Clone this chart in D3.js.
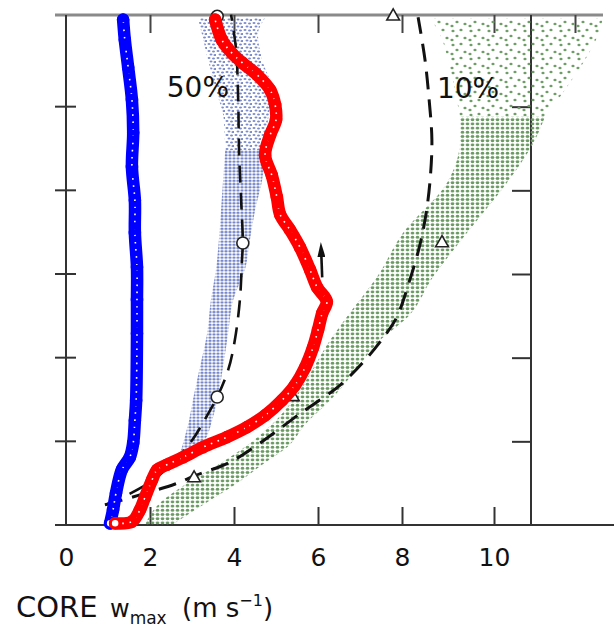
<!DOCTYPE html>
<html>
<head>
<meta charset="utf-8">
<script src="https://cdn.jsdelivr.net/npm/d3@7"></script>
<style>
  body { margin: 0; background: #fff; }
  svg { display: block; font-family: "DejaVu Sans", sans-serif; }
</style>
</head>
<body>
<svg id="chart" width="614" height="633"></svg>
<script>
"use strict";

// Tick values
const xTickLabels = [0, 2, 4, 6, 8, 10];
const xTopTicks = [2, 4, 6, 8, 10, 12];
const yTicks = [1, 2, 3, 4, 5];

// Curves, as [w (m/s), height]
const bluePath = [[1.05,0.02],[1.12,0.18],[1.19,0.38],[1.33,0.66],[1.52,0.81],[1.60,0.98],
  [1.64,1.25],[1.67,1.49],[1.69,2.29],[1.69,2.69],[1.69,3.08],[1.64,3.49],[1.64,3.88],
  [1.57,4.28],[1.60,4.69],[1.57,5.08],[1.48,5.47],[1.40,5.80],[1.36,6.04]];

const redPath = [[1.17,0.02],[1.57,0.04],[1.76,0.18],[1.88,0.33],[2.05,0.54],[2.17,0.66],
  [2.40,0.72],[2.79,0.81],[3.26,0.93],[3.83,1.05],[4.31,1.17],[4.74,1.31],[5.14,1.49],
  [5.45,1.67],[5.69,1.88],[5.88,2.12],[6.00,2.33],[6.10,2.53],[6.21,2.67],[5.98,2.84],
  [5.81,3.05],[5.57,3.32],[5.33,3.53],[5.10,3.71],[5.02,3.92],[4.90,4.18],[4.74,4.42],
  [4.86,4.66],[5.00,4.84],[4.98,5.02],[4.86,5.20],[4.55,5.38],[4.21,5.52],[3.95,5.64],
  [3.71,5.80],[3.55,6.04]];

const fiftyPath = [[0.93,0.24],[2.00,0.51],[2.88,0.93],[3.43,1.37],[3.60,1.53],[3.86,1.85],
  [4.02,2.21],[4.14,2.69],[4.19,3.17],[4.21,3.37],[4.17,3.88],[4.12,4.48],[4.10,5.08],
  [4.05,5.68],[3.93,6.10]];

const tenPath = [[0.93,0.24],[1.76,0.36],[2.60,0.49],[3.07,0.59],[3.90,0.75],[4.62,0.98],
  [5.57,1.33],[6.52,1.67],[7.12,1.97],[7.60,2.27],[7.88,2.49],[8.17,2.93],[8.39,3.35],
  [8.52,3.71],[8.61,4.12],[8.65,4.60],[8.59,5.08],[8.50,5.56],[8.35,6.07]];

const fiftyMarks = [[3.60,1.53],[4.21,3.37],[3.60,6.08]];
const tenMarks = [[3.05,0.56],[5.40,1.53],[8.87,3.37],[7.79,6.08]];
const arrowPath = [[6.10,2.96],[6.08,3.22]];

// Scatter envelopes, as [height, left w, right w]
const lightDense = [[0.84,2.71,3.00],[1.02,2.81,3.31],[1.25,2.93,3.48],[1.49,3.02,3.60],
  [1.89,3.19,3.74],[2.29,3.36,3.86],[2.69,3.45,3.98],[3.05,3.57,4.26],[3.41,3.64,4.38],
  [3.76,3.69,4.50],[4.12,3.74,4.67],[4.48,3.79,4.74]];
const lightSparse = [[4.48,3.79,4.74],[4.84,3.76,4.81],[5.20,3.57,4.90],[5.56,3.38,4.67],
  [5.86,3.24,4.57],[6.06,3.14,4.74]];
const greenDense = [[0.00,1.88,2.52],[0.24,2.19,3.26],[0.48,2.83,4.02],[0.72,3.62,4.67],
  [0.96,4.33,5.33],[1.20,4.90,5.69],[1.49,5.40,6.29],[1.85,5.86,6.90],[2.21,6.29,7.48],
  [2.49,6.69,8.13],[2.96,7.40,8.67],[3.49,8.02,9.41],[4.09,8.98,10.32],[4.60,9.26,11.01],
  [4.88,9.26,11.26]];
const greenSparse = [[4.88,9.26,11.26],[5.20,9.15,11.75],[5.56,9.00,12.25],[5.86,8.83,12.57],
  [6.06,8.61,12.69]];

const svg = d3.select("#chart");

// The original frame is slightly uneven, so the x scale is piecewise.
const x = d3.scaleLinear().domain([0, 8, 10, 12]).range([66, 402, 494, 575]);
const y = d3.scaleLinear().domain([0, 6]).range([525, 23]);

// Dot patterns for the scatter bands
const defs = svg.append("defs");
function dotPattern(id, w, h, dots, color, rx, ry) {
  const p = defs.append("pattern").attr("id", id)
    .attr("patternUnits", "userSpaceOnUse").attr("width", w).attr("height", h);
  dots.forEach(d => p.append("ellipse").attr("cx", d[0]).attr("cy", d[1])
    .attr("rx", rx).attr("ry", ry).attr("fill", color));
}
dotPattern("lightDense", 4, 3.2, [[2, 1.6]], "#7787c8", 1.7, 1.25);
dotPattern("lightSparse", 9, 7, [[2, 2], [6.5, 2.5], [4, 5.5], [8, 6]], "#7b8bcb", 1.5, 1.1);
dotPattern("greenDense", 5, 4.2, [[2.5, 2.1]], "#6a9962", 1.9, 1.5);
dotPattern("greenSparse", 18, 14, [[3, 3], [11, 2], [7, 8], [15, 10], [2, 12]], "#6f9d67", 1.6, 1.3);

// Arrow head: long and narrow, as in the original
defs.append("marker").attr("id", "head")
  .attr("viewBox", "0 0 10 10").attr("preserveAspectRatio", "none")
  .attr("refX", 1).attr("refY", 5)
  .attr("markerUnits", "userSpaceOnUse")
  .attr("markerWidth", 15).attr("markerHeight", 8).attr("orient", "auto")
  .append("path").attr("d", "M0,0 L10,5 L0,10 Z").attr("fill", "#111");

// Axes frame
const axisColor = "#333";
svg.append("line").attr("x1", 55).attr("x2", 614).attr("y1", y(0)).attr("y2", y(0))
  .attr("stroke", axisColor).attr("stroke-width", 2);
svg.append("line").attr("x1", 55).attr("x2", 603).attr("y1", 15).attr("y2", 15)
  .attr("stroke", "#8a8a8a").attr("stroke-width", 3);
svg.append("line").attr("x1", x(0)).attr("x2", x(0)).attr("y1", 15).attr("y2", y(0))
  .attr("stroke", axisColor).attr("stroke-width", 2);
svg.append("line").attr("x1", 531).attr("x2", 531).attr("y1", 15).attr("y2", y(0))
  .attr("stroke", axisColor).attr("stroke-width", 2);

// Bottom ticks and labels
const bottomAxis = svg.append("g").attr("transform", `translate(0,${y(0)})`)
  .call(d3.axisBottom(x).tickValues(xTickLabels).tickSize(-18).tickPadding(23));
bottomAxis.select(".domain").remove();
bottomAxis.selectAll(".tick line").attr("stroke", axisColor).attr("stroke-width", 2)
  .filter(d => d === 0).remove();
bottomAxis.selectAll(".tick text").attr("font-size", 25).attr("fill", "#111")
  .attr("font-family", "DejaVu Sans, sans-serif");

// Top ticks
const topAxis = svg.append("g").attr("transform", "translate(0,15)")
  .call(d3.axisTop(x).tickValues(xTopTicks).tickSize(-18).tickFormat(""));
topAxis.select(".domain").remove();
topAxis.selectAll(".tick line").attr("stroke", "#444").attr("stroke-width", 2);

// Left ticks cross the axis
svg.append("g").selectAll("line").data(yTicks).join("line")
  .attr("x1", 55).attr("x2", 76).attr("y1", d => y(d)).attr("y2", d => y(d))
  .attr("stroke", axisColor).attr("stroke-width", 2);

// Right ticks point inward
const rightAxis = svg.append("g").attr("transform", "translate(531,0)")
  .call(d3.axisRight(y).tickValues(yTicks).tickSize(-19).tickFormat(""));
rightAxis.select(".domain").remove();
rightAxis.selectAll(".tick line").attr("stroke", axisColor).attr("stroke-width", 2);

// Scatter bands
const band = d3.area().y(d => y(d[0])).x0(d => x(d[1])).x1(d => x(d[2]))
  .curve(d3.curveMonotoneY);
[["lightDense", lightDense], ["lightSparse", lightSparse],
 ["greenDense", greenDense], ["greenSparse", greenSparse]].forEach(([id, rows]) => {
  svg.append("path").datum(rows).attr("d", band).attr("fill", `url(#${id})`);
});

// Dashed model curves
const line = d3.line().x(d => x(d[0])).y(d => y(d[1])).curve(d3.curveCatmullRom);
svg.append("path").datum(fiftyPath).attr("d", line).attr("fill", "none")
  .attr("stroke", "#111").attr("stroke-width", 2.6).attr("stroke-dasharray", "17 10");
svg.append("path").datum(tenPath).attr("d", line).attr("fill", "none")
  .attr("stroke", "#111").attr("stroke-width", 3).attr("stroke-dasharray", "18 10");

svg.append("g").selectAll("circle").data(fiftyMarks).join("circle")
  .attr("cx", d => x(d[0])).attr("cy", d => y(d[1])).attr("r", 6)
  .attr("fill", "#fff").attr("stroke", "#222").attr("stroke-width", 1.6);
svg.append("g").selectAll("path").data(tenMarks).join("path")
  .attr("transform", d => `translate(${x(d[0])},${y(d[1])})`)
  .attr("d", d3.symbol(d3.symbolTriangle, 70))
  .attr("fill", "#fff").attr("stroke", "#222").attr("stroke-width", 1.6);

// Thick chains of open circles
function chain(data, color) {
  svg.append("path").datum(data).attr("d", line).attr("fill", "none")
    .attr("stroke", color).attr("stroke-width", 12.5).attr("stroke-linecap", "round");
  svg.append("path").datum(data).attr("d", line).attr("fill", "none")
    .attr("stroke", "#fff").attr("stroke-width", 1.6).attr("stroke-dasharray", "1.6 5.5");
  svg.append("g").selectAll("circle").data(data).join("circle")
    .attr("cx", d => x(d[0])).attr("cy", d => y(d[1])).attr("r", 4.8)
    .attr("fill", "none").attr("stroke", color).attr("stroke-width", 3);
  svg.append("circle").attr("cx", x(data[0][0])).attr("cy", y(data[0][1])).attr("r", 4.5)
    .attr("fill", "#fff").attr("stroke", color).attr("stroke-width", 2.5);
}
chain(bluePath, "#0000ff");
chain(redPath, "#ff0000");

svg.append("path").datum(arrowPath).attr("d", d3.line().x(d => x(d[0])).y(d => y(d[1])))
  .attr("stroke", "#111").attr("stroke-width", 2.6).attr("marker-end", "url(#head)");

// Annotations
svg.append("text").attr("x", x(2.40)).attr("y", y(5.12)).attr("font-size", 28)
  .attr("fill", "#111").text("50%");
svg.append("text").attr("x", x(8.76)).attr("y", y(5.10)).attr("font-size", 28)
  .attr("fill", "#111").text("10%");

// Axis title
const title = svg.append("text").attr("y", 617).attr("fill", "#111");
title.append("tspan").attr("x", 16).attr("font-size", 29).text("CORE");
title.append("tspan").attr("x", 110).attr("font-size", 24).text("w");
title.append("tspan").attr("font-size", 17).attr("dy", 7).text("max");
title.append("tspan").attr("x", 182).attr("dy", -7).attr("font-size", 26).text("(m s");
title.append("tspan").attr("font-size", 16).attr("dy", -11).text("−1");
title.append("tspan").attr("font-size", 26).attr("dy", 11).text(")");
</script>
</body>
</html>
